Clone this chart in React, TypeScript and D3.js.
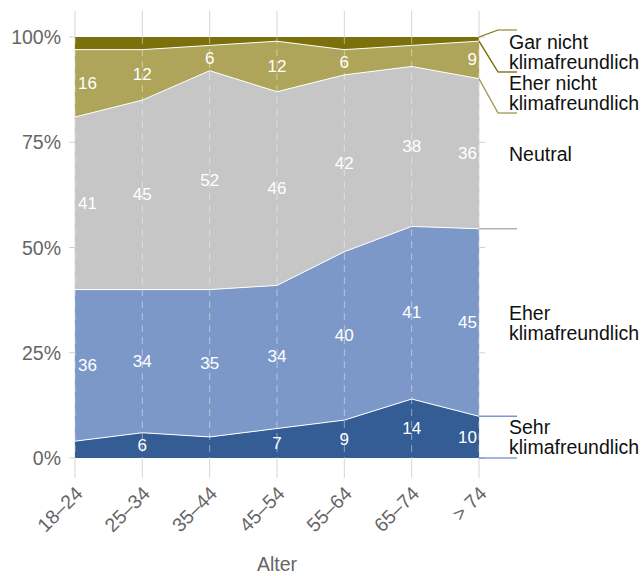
import * as d3 from "d3";

const AGE_GROUPS = ["18–24", "25–34", "35–44", "45–54", "55–64", "65–74", "> 74"];

// shares in percent, bottom layer first
const SEHR = [4, 6, 5, 7, 9, 14, 10];
const EHER = [36, 34, 35, 34, 40, 41, 45];
const NEUTRAL = [41, 45, 52, 46, 42, 38, 36];
const EHER_NICHT = [16, 12, 6, 12, 6, 5, 9];
const GAR_NICHT = [3, 3, 2, 1, 3, 2, 1];

const SERIES_NAMES = [
  "Sehr klimafreundlich",
  "Eher klimafreundlich",
  "Neutral",
  "Eher nicht klimafreundlich",
  "Gar nicht klimafreundlich",
];
const SERIES_VALUES = [SEHR, EHER, NEUTRAL, EHER_NICHT, GAR_NICHT];
const SERIES_COLORS = ["#345c95", "#7b98c8", "#c6c6c6", "#aea55b", "#7b700b"];
const LINE_COLORS = ["#4a70aa", "#7b98c8", "#b4b4b4", "#a69c48", "#7b700b"];

const Y_TICKS = [0, 0.25, 0.5, 0.75, 1];
const X_TITLE = "Alter";

const W = 643;
const H = 576;
const FONT = "'Liberation Sans', Arial, Helvetica, sans-serif";

export default function App() {
  const x = d3.scalePoint<string>().domain(AGE_GROUPS).range([75, 479]);
  const y = d3.scaleLinear().domain([0, 1]).range([458, 37]);

  const rows = AGE_GROUPS.map((g, i) => {
    const r: Record<string, any> = { group: g };
    SERIES_NAMES.forEach((n, s) => (r[n] = SERIES_VALUES[s][i]));
    return r;
  });

  const stack = d3.stack<any>().keys(SERIES_NAMES).offset(d3.stackOffsetExpand);
  const layers = stack(rows);

  const area = d3
    .area<any>()
    .x((d) => x(d.data.group)!)
    .y0((d) => y(d[0]))
    .y1((d) => y(d[1]));
  const topLine = d3
    .line<any>()
    .x((d) => x(d.data.group)!)
    .y((d) => y(d[1]));

  // right-hand legend: labels near band centre at the last group, pushed apart
  const last = AGE_GROUPS.length - 1;
  const xEnd = x(AGE_GROUPS[last])!;
  const lineH = 20;
  const order = [...layers].reverse(); // top to bottom
  const blocks = order.map((l) => {
    const name = l.key;
    const parts = name.split(" ");
    const lines = parts.length > 1 ? [parts.slice(0, -1).join(" "), parts[parts.length - 1]] : [name];
    const bTop = y(l[last][1]);
    const bBot = y(l[last][0]);
    const h = lines.length * lineH;
    return { l, lines, bTop, bBot, h, top: (bTop + bBot) / 2 - h / 2 };
  });
  let minTop = y(1) - 5;
  blocks.forEach((b) => {
    b.top = Math.max(b.top, minTop);
    minTop = b.top + b.h + 1;
  });
  const bounds: number[] = [];
  bounds.push(Math.min(blocks[0].bTop, blocks[0].top - 2));
  for (let i = 0; i < blocks.length - 1; i++) {
    const lo = blocks[i].top + blocks[i].h;
    const hi = blocks[i + 1].top;
    bounds.push(Math.max(lo, Math.min(hi, blocks[i].bBot)));
  }
  bounds.push(Math.max(blocks[blocks.length - 1].bBot, blocks[blocks.length - 1].top + blocks[blocks.length - 1].h));

  const bracket = (y0: number, y1: number) => `M${xEnd},${y0}L${xEnd + 19},${y1}L${xEnd + 38},${y1}`;

  return (
    <svg width={W} height={H} style={{ position: "absolute", left: 0, top: 0, background: "#fff" }} fontFamily={FONT}>
      {/* grid verticals */}
      {AGE_GROUPS.map((g) => (
        <line key={g} x1={x(g)} x2={x(g)} y1={11} y2={478} stroke="#d6d6d6" strokeWidth={1} />
      ))}
      {/* y ticks both sides */}
      {Y_TICKS.map((t) => (
        <g key={t}>
          <line x1={69} x2={75} y1={y(t)} y2={y(t)} stroke="#d0d0d0" />
          <line x1={479} x2={485} y1={y(t)} y2={y(t)} stroke="#d0d0d0" />
          <text x={61} y={y(t)} textAnchor="end" dominantBaseline="central" fontSize={19.5} fill="#666">
            {d3.format(".0%")(t)}
          </text>
        </g>
      ))}

      {layers.map((l, i) => (
        <path key={l.key} d={area(l) ?? ""} fill={SERIES_COLORS[i]} />
      ))}
      {layers.slice(0, -1).map((l) => (
        <path key={l.key} d={topLine(l) ?? ""} fill="none" stroke="#fff" strokeWidth={1} />
      ))}
      {AGE_GROUPS.map((g) => (
        <line
          key={g}
          x1={x(g)}
          x2={x(g)}
          y1={y(1)}
          y2={y(0)}
          stroke="#fff"
          strokeOpacity={0.45}
          strokeDasharray="7,5"
        />
      ))}

      {/* value labels */}
      {layers.map((l, s) =>
        l.map((d, i) => {
          const v = SERIES_VALUES[s][i];
          if (v <= 5) return null;
          const gx = x(AGE_GROUPS[i])!;
          const anchor = i === 0 ? "start" : i === last ? "end" : "middle";
          const tx = i === 0 ? gx + 3 : i === last ? gx - 2 : gx;
          return (
            <text
              key={`${l.key}-${i}`}
              x={tx}
              y={y((d[0] + d[1]) / 2)}
              textAnchor={anchor}
              dominantBaseline="central"
              fontSize={17}
              fill="#fff"
            >
              {v}
            </text>
          );
        })
      )}

      {/* x axis labels */}
      {AGE_GROUPS.map((g) => (
        <text
          key={g}
          transform={`translate(${x(g)! + 4},${490}) rotate(-45)`}
          textAnchor="end"
          dy="0.35em"
          fontSize={19.5}
          fill="#666"
        >
          {g}
        </text>
      ))}
      <text x={(x.range()[0] + x.range()[1]) / 2} y={571} textAnchor="middle" fontSize={19.5} fill="#666">
        {X_TITLE}
      </text>

      {/* legend brackets, bottom series first so upper ones overlay */}
      {[...blocks].reverse().map((b) => {
        const k = blocks.indexOf(b);
        const s = SERIES_NAMES.indexOf(b.l.key);
        return (
          <g key={b.l.key} fill="none" stroke={LINE_COLORS[s]} strokeWidth={1.2}>
            <path d={bracket(b.bTop, bounds[k])} />
            <path d={bracket(b.bBot, bounds[k + 1])} />
          </g>
        );
      })}
      {blocks.map((b) => (
        <text key={b.l.key} x={509} fontSize={19.5} fill="#111">
          {b.lines.map((ln, j) => (
            <tspan key={j} x={509} y={b.top + lineH / 2 + j * lineH} dominantBaseline="central">
              {ln}
            </tspan>
          ))}
        </text>
      ))}
    </svg>
  );
}
